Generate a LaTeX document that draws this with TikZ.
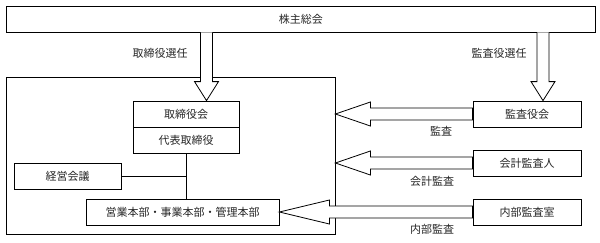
\documentclass[tikz,border=0pt]{standalone}
\usepackage{fontspec}
\newfontfamily\jpfont{Noto Sans CJK JP}
\usetikzlibrary{calc,positioning}

\begin{document}
\begin{tikzpicture}[x=1pt,y=-1pt,
    box/.style={draw,line width=0.8pt,minimum height=26pt,inner sep=0pt,font=\jpfont\fontsize{11}{13}\selectfont,text=black!85},
    lbl/.style={font=\jpfont\fontsize{11}{13}\selectfont,text=black!85,inner sep=0pt},
    blk/.style={draw,fill=white,line width=0.8pt,line join=miter}
  ]
    \useasboundingbox (0,0) rectangle (600,242);
    \node[box,minimum width=588.5pt,minimum height=25.5pt](gm) at (300.75,19.25){株主総会};
    \node[box,minimum width=328.5pt,minimum height=157pt](corp) at (170.75,155.5){};
    \node[box,minimum width=106pt](board) at (186,114){取締役会};
    \node[box,minimum width=106pt,below=0pt of board](rep){代表取締役};
    \node[box,minimum width=107pt](mtg) at (67.5,176){経営会議};
    \node[box,minimum width=193pt](div) at (182.5,212.5){営業本部・事業本部・管理本部};
    \node[box,minimum width=108pt](aud) at (527,114){監査役会};
    \node[box,minimum width=108pt](acc) at (527,163){会計監査人};
    \node[box,minimum width=108pt](ia) at (527,212){内部監査室};
    \draw[line width=0.8pt](rep.south)--(rep.south|-div.north);
    \draw[line width=0.8pt](mtg.east)--(mtg.east-|rep.south);
    \coordinate(t1) at ($(board.north)+(20.5,0)$);
    \coordinate(t2) at ($(aud.north)+(16,0)$);
    \foreach \t in {t1,t2}
      \draw[blk]($(\t|-gm.south)+(-6,0)$)--($(\t)+(-6,-19)$)--($(\t)+(-12,-19)$)--(\t)
        --($(\t)+(12,-19)$)--($(\t)+(6,-19)$)--($(\t|-gm.south)+(6,0)$);
    \coordinate(h1) at (corp.east|-aud.west);
    \coordinate(h2) at (corp.east|-acc.west);
    \coordinate(h3) at (div.east|-ia.west);
    \foreach \s/\h/\l in {aud/h1/35,acc/h2/35,ia/h3/50}
      \draw[blk]($(\s.west)+(0,-6)$)--($(\h)+(\l,-6)$)--($(\h)+(\l,-12)$)--(\h)
        --($(\h)+(\l,12)$)--($(\h)+(\l,6)$)--($(\s.west)+(0,6)$)--cycle;
    \node[lbl](l1) at (160,53){取締役選任};
    \node[lbl](l2) at (499,53){監査役選任};
    \node[lbl](l3) at (441,131){監査};
    \node[lbl](l4) at (432,181){会計監査};
    \node[lbl](l5) at (432,229){内部監査};
  \end{tikzpicture}
\end{document}
